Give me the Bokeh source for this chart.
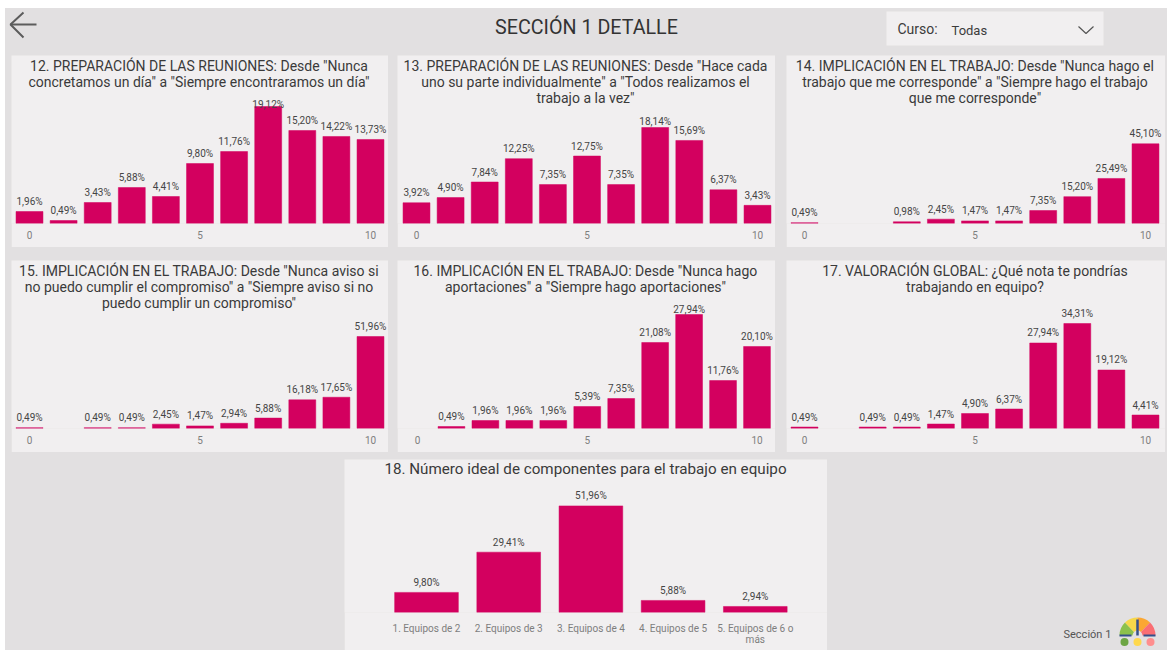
from bokeh.plotting import figure
from bokeh.layouts import column, row
from bokeh.models import Label, FixedTicker
from bokeh.embed import file_html
from bokeh.resources import INLINE
from bokeh.core.properties import value

# ---------- data ----------
title_12 = '12. PREPARACIÓN DE LAS REUNIONES: Desde "Nunca\nconcretamos un día" a "Siempre encontraramos un día"'
title_13 = '13. PREPARACIÓN DE LAS REUNIONES: Desde "Hace cada\nuno su parte individualmente" a "Todos realizamos el\ntrabajo a la vez"'
title_14 = '14. IMPLICACIÓN EN EL TRABAJO: Desde "Nunca hago el\ntrabajo que me corresponde" a "Siempre hago el trabajo\nque me corresponde"'
title_15 = '15. IMPLICACIÓN EN EL TRABAJO: Desde "Nunca aviso si\nno puedo cumplir el compromiso" a "Siempre aviso si no\npuedo cumplir un compromiso"'
title_16 = '16. IMPLICACIÓN EN EL TRABAJO: Desde "Nunca hago\naportaciones" a "Siempre hago aportaciones"'
title_17 = '17. VALORACIÓN GLOBAL: ¿Qué nota te pondrías\ntrabajando en equipo?'
title_18 = '18. Número ideal de componentes para el trabajo en equipo'

scores = [0, 1, 2, 3, 4, 5, 6, 7, 8, 9, 10]
values_12 = [1.96, 0.49, 3.43, 5.88, 4.41, 9.80, 11.76, 19.12, 15.20, 14.22, 13.73]
values_13 = [3.92, 4.90, 7.84, 12.25, 7.35, 12.75, 7.35, 18.14, 15.69, 6.37, 3.43]
values_14 = [0.49, None, None, 0.98, 2.45, 1.47, 1.47, 7.35, 15.20, 25.49, 45.10]
values_15 = [0.49, None, 0.49, 0.49, 2.45, 1.47, 2.94, 5.88, 16.18, 17.65, 51.96]
values_16 = [None, 0.49, 1.96, 1.96, 1.96, 5.39, 7.35, 21.08, 27.94, 11.76, 20.10]
values_17 = [0.49, None, 0.49, 0.49, 1.47, 4.90, 6.37, 27.94, 34.31, 19.12, 4.41]

team_sizes = ["1. Equipos de 2", "2. Equipos de 3", "3. Equipos de 4", "4. Equipos de 5", "5. Equipos de 6 o\nmás"]
values_18 = [9.80, 29.41, 51.96, 5.88, 2.94]

tick_values = [0, 5, 10]
page_title = "SECCIÓN 1 DETALLE"
slicer_label = "Curso:"
slicer_value = "Todas"
footer_label = "Sección 1"

# ---------- style ----------
FONT = "Roboto"
GRAY = "#E2E0E1"
PANEL = "#F1EFF0"
BAR = "#D3005F"
TITLE_C = "#3A3A3A"
LABEL_C = "#454545"
TICK_C = "#7E7E7E"
BASE_GAP = 10
TITLE_DROP = 26


def fmt(v):
    return f"{v:.2f}".replace(".", ",") + "%"


def add_title(p, text, cx, drop=TITLE_DROP, size="14px"):
    p.add_layout(Label(x=cx, y=p.height - drop, x_units="screen", y_units="screen", text=text,
                       text_align="center", text_baseline="top", text_font=FONT,
                       text_font_size=size, text_color=TITLE_C, text_line_height=1.03))


def style(p):
    p.xgrid.visible = False
    p.ygrid.visible = False
    p.yaxis.visible = False
    p.outline_line_color = None
    ax = p.xaxis[0]
    ax.axis_line_color = None
    ax.major_tick_line_color = None
    ax.minor_tick_line_color = None
    ax.major_label_text_font = FONT
    ax.major_label_text_font_size = "10px"
    ax.major_label_text_color = TICK_C


def hist_panel(title, vals, lead, step, w, bar_px, ml, mr=0, mb=0, down=None):
    h = 192
    bottom = 24
    frame = h - bottom
    vmax = max(v for v in vals if v is not None)
    p = figure(width=w, height=h, output_backend="svg", toolbar_location=None,
               x_range=(-lead / step, (w - lead) / step), y_range=(0, vmax * frame / bar_px),
               min_border_left=0, min_border_right=0, min_border_top=0, min_border_bottom=bottom,
               background_fill_color=PANEL, border_fill_color=PANEL, margin=(0, mr, mb, ml))
    xs = [s for s, v in zip(scores, vals) if v is not None]
    ys = [v for v in vals if v is not None]
    p.vbar(x=xs, top=ys, bottom=0, width=0.79, fill_color=BAR, line_color=BAR, line_width=0.5)
    offs = [-(down or {}).get(s, BASE_GAP) for s in xs]
    p.text(x=xs, y=ys, text=[fmt(v) for v in ys], y_offset=offs, text_align="center",
           text_baseline="middle", text_font=value(FONT), text_font_size="10px", text_color=LABEL_C)
    style(p)
    p.xaxis[0].ticker = FixedTicker(ticks=tick_values)
    p.xaxis[0].major_label_standoff = 1
    add_title(p, title, w / 2 - 1)
    return p


p12 = hist_panel(title_12, values_12, 18, 34.1, 377, 117, 6, mb=13, down={7: 2})
p13 = hist_panel(title_13, values_13, 19, 34.1, 378, 96, 9, mb=13, down={7: 6.5})
p14 = hist_panel(title_14, values_14, 18, 34.1, 379, 79.7, 11, mr=2, mb=13)
p15 = hist_panel(title_15, values_15, 18, 34.1, 377, 92, 6, mb=7)
p16 = hist_panel(title_16, values_16, 20, 33.95, 378, 114, 9, mb=7, down={8: 5})
p17 = hist_panel(title_17, values_17, 18, 34.1, 379, 105, 11, mr=2, mb=7)

# panel 18: five categories placed on a positional scale so the frame spans the whole card
h18, b18, w18 = 191, 38, 483
px18 = 106.6
lead18, step18 = 82, 82.2
pos18 = list(range(len(team_sizes)))
p18 = figure(width=w18, height=h18, output_backend="svg", toolbar_location=None,
             x_range=(-lead18 / step18, (w18 - lead18) / step18),
             y_range=(0, max(values_18) * (h18 - b18) / px18),
             min_border_left=0, min_border_right=0, min_border_top=0, min_border_bottom=b18,
             background_fill_color=PANEL, border_fill_color=PANEL, margin=(0, 0, 0, 339))
p18.vbar(x=pos18, top=values_18, bottom=0, width=0.775, fill_color=BAR, line_color=BAR, line_width=0.5)
p18.text(x=pos18, y=values_18, text=[fmt(v) for v in values_18], y_offset=-BASE_GAP, text_align="center",
         text_baseline="middle", text_font=value(FONT), text_font_size="10px", text_color=LABEL_C)
style(p18)
p18.xaxis[0].ticker = FixedTicker(ticks=pos18)
p18.xaxis[0].major_label_overrides = dict(zip(pos18, team_sizes))
p18.xaxis[0].major_label_standoff = 4
p18.xaxis[0].major_label_orientation = "horizontal"
p18.xaxis[0].major_label_text_line_height = 1.0
add_title(p18, title_18, 241, drop=38.5, size="15.2px")

# footer with gauge (y measured upward from the page bottom)
foot = figure(width=340, height=h18, output_backend="svg", toolbar_location=None,
              x_range=(827, 1167), y_range=(0, h18),
              min_border=0, background_fill_color=GRAY, border_fill_color=GRAY,
              outline_line_color=None, margin=0)
foot.axis.visible = False
foot.grid.visible = False
foot.text(x=[1063], y=[16], text=[footer_label], text_baseline="middle", text_font=value(FONT),
          text_font_size="11px", text_color="#555555")
cx, cy = 1137, 15
foot.annular_wedge(x=cx, y=cy, inner_radius=5, outer_radius=18, start_angle=[2.34, 1.57, 0.8, 0.0],
                   end_angle=[3.14, 2.34, 1.57, 0.8],
                   fill_color=["#8CC14C", "#F7D84A", "#FBA733", "#FA6E73"], line_color=None)
foot.rect(x=[1125, 1149], y=[cy, cy], width=12, height=2, fill_color="#34508A", line_color=None)
foot.segment(x0=[cx], y0=[cy], x1=[cx], y1=[cy + 16], line_color="#34508A", line_width=2.5)
foot.circle(x=[1124, 1137, 1150], y=[8.5, 8.5, 8.5], radius=4,
            fill_color=["#6DA544", "#FFD84D", "#FF8E8E"], line_color=None)

# header (coordinates in page pixels)
head = figure(width=1162, height=47, output_backend="svg", toolbar_location=None,
              x_range=(5, 1167), y_range=(55, 8), min_border=0,
              background_fill_color=GRAY, border_fill_color=GRAY, outline_line_color=None, margin=0)
head.axis.visible = False
head.grid.visible = False
head.text(x=[586], y=[27], text=[page_title], text_align="center", text_baseline="middle",
          text_font=value(FONT), text_font_size="19.7px", text_color="#333333")
head.line(x=[36, 10], y=[24, 24], line_color="#5C5C5C", line_width=2)
head.line(x=[23, 10, 23], y=[12, 24, 37], line_color="#5C5C5C", line_width=2)
head.quad(left=[886], right=[1103], top=[11], bottom=[45], fill_color=PANEL, line_color=None)
head.text(x=[897], y=[28], text=[slicer_label], text_baseline="middle", text_font=value(FONT),
          text_font_size="14px", text_color="#3C3C3C")
head.text(x=[951], y=[30], text=[slicer_value], text_baseline="middle", text_font=value(FONT),
          text_font_size="13px", text_color="#3C3C3C")
head.line(x=[1078, 1085.5, 1093], y=[26, 33, 26], line_color="#555555", line_width=1.2)

root = column(head, row(p12, p13, p14, spacing=0), row(p15, p16, p17, spacing=0),
              row(p18, column(foot, spacing=0), spacing=0),
              spacing=0, width=1162, height=642, margin=(8, 0, 0, 5), styles={"background-color": GRAY})
open("out.html", "w").write(file_html(root, INLINE))
